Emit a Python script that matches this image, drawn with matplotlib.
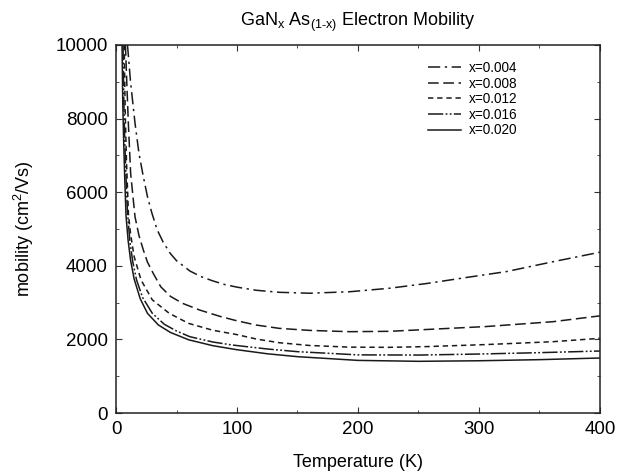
import matplotlib
matplotlib.use("Agg")
import matplotlib.pyplot as plt
from matplotlib.ticker import MultipleLocator

plt.rcParams['font.family'] = ['Liberation Sans', 'DejaVu Sans']
plt.rcParams['mathtext.fontset'] = 'custom'
plt.rcParams['mathtext.rm'] = 'Liberation Sans'
plt.rcParams['mathtext.it'] = 'Liberation Sans'

# ---- data ----
labels = ["x=0.004", "x=0.008", "x=0.012", "x=0.016", "x=0.020"]

T_004 = [9.5, 12, 15.7, 19, 22.6, 26, 29.5, 34, 39, 45, 50, 61, 70, 80, 90, 100,
         116, 135, 160, 193, 226, 257, 287, 323, 361, 400]
V_004 = [10000, 9000, 7880, 7050, 6420, 5880, 5450, 4980, 4640, 4330, 4140, 3860,
         3710, 3590, 3490, 3420, 3335, 3280, 3255, 3295, 3390, 3520, 3670, 3845,
         4110, 4370]

T_008 = [7.8, 9, 10.2, 12.1, 15.7, 19, 22.6, 26, 31, 37, 45, 55, 69, 86, 100,
         116, 135, 160, 193, 226, 257, 306, 361, 400]
V_008 = [10000, 8900, 7880, 6513, 5334, 4820, 4429, 4100, 3780, 3430, 3170, 2980,
         2800, 2625, 2505, 2390, 2300, 2245, 2210, 2220, 2270, 2350, 2481, 2640]

T_012 = [6.8, 7.6, 8.6, 10.3, 12, 15, 20.7, 30, 44, 60, 80, 100, 116, 135, 160,
         193, 226, 257, 306, 361, 400]
V_012 = [10000, 8200, 6900, 5400, 4874, 4250, 3614, 3075, 2709, 2436, 2249, 2130,
         2010, 1910, 1835, 1790, 1785, 1805, 1860, 1938, 2030]

T_016 = [5.8, 6.5, 7.3, 8.3, 9.5, 11.5, 14, 17, 22, 30, 40, 50, 61, 80, 96, 125,
         150, 200, 250, 300, 350, 400]
V_016 = [10000, 8400, 7300, 6400, 5450, 4650, 4080, 3614, 3139, 2709, 2409, 2229,
         2074, 1930, 1848, 1740, 1667, 1580, 1575, 1603, 1640, 1685]

T_020 = [5, 5.6, 6.4, 7.3, 8.3, 10, 12, 15, 20, 26, 35, 45, 60, 80, 100, 125, 150,
         200, 250, 300, 350, 400]
V_020 = [10000, 8400, 7300, 6300, 5351, 4695, 4161, 3640, 3107, 2709, 2393, 2189,
         1990, 1830, 1720, 1610, 1531, 1430, 1405, 1420, 1450, 1495]

series_T = [T_004, T_008, T_012, T_016, T_020]
series_V = [V_004, V_008, V_012, V_016, V_020]
styles = [(0, (8, 3, 1.5, 3)), (0, (7, 3)), (0, (3.5, 2.5)),
          (0, (10, 1.5, 1.2, 1.5, 1.2, 1.5)), '-']

fig = plt.figure(figsize=(6.19, 4.73), dpi=100)
ax = fig.add_axes([0.1874, 0.1268, 0.7819, 0.7781])

for T, V, ls, lab in zip(series_T, series_V, styles, labels):
    ax.plot(T, V, color='#1a1a1a', lw=1.1, linestyle=ls, label=lab)

ax.set_xlim(0, 400)
ax.set_ylim(0, 10000)
ax.xaxis.set_major_locator(MultipleLocator(100))
ax.xaxis.set_minor_locator(MultipleLocator(50))
ax.yaxis.set_major_locator(MultipleLocator(2000))
ax.yaxis.set_minor_locator(MultipleLocator(1000))
ax.tick_params(which='both', direction='in', top=True, right=True,
               labelsize=13.5, color='#333333')
ax.tick_params(which='major', length=4, width=0.8, pad=6)
ax.tick_params(which='minor', length=2, width=0.6)
for s in ax.spines.values():
    s.set_linewidth(1.1)
    s.set_color('#222222')

ax.set_xlabel('Temperature (K)', fontsize=13, labelpad=11)
ax.set_ylabel('mobility (cm$^2$/Vs)', fontsize=13, labelpad=14)
ax.set_title('GaN$_x$ As$_{(1\u2011x)}$ Electron Mobility', fontsize=13, pad=14)

leg = ax.legend(loc='upper left', bbox_to_anchor=(0.62, 0.99), frameon=False,
                fontsize=9.8, handlelength=2.4, handletextpad=0.6,
                labelspacing=0.12)

fig.savefig('out.png', dpi=100)
